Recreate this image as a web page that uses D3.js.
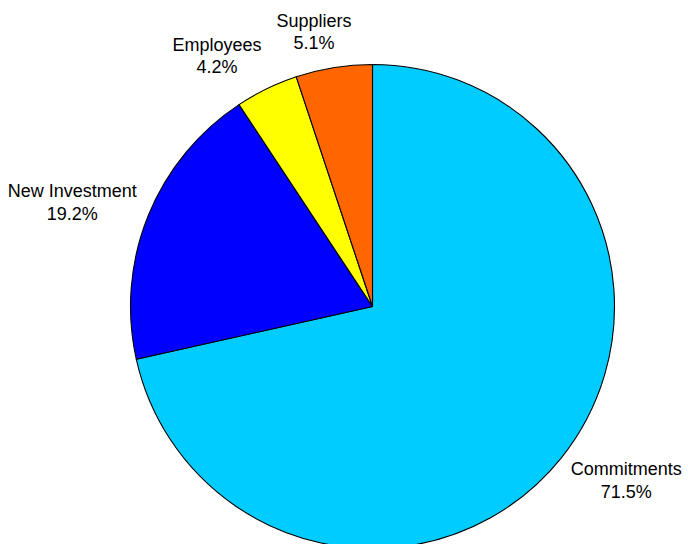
<!DOCTYPE html>
<html>
<head>
<meta charset="utf-8">
<script src="https://cdn.jsdelivr.net/npm/d3@7"></script>
<style>
  html, body { margin: 0; padding: 0; background: #fff; }
  svg { display: block; }
  text { font-family: "Liberation Sans", Arial, Helvetica, sans-serif; fill: #000; }
</style>
</head>
<body>
<svg id="chart" width="688" height="544"></svg>
<script>
// Share of spending, in percent, drawn clockwise from 12 o'clock
const categories = ["Commitments", "New Investment", "Employees", "Suppliers"];
const shares = [71.5, 19.2, 4.2, 5.1];
const sliceColors = ["#00CCFF", "#0000FF", "#FFFF00", "#FF6600"];

const width = 688, height = 544;
const cx = 372.5, cy = 306.5, radius = 242;
const labelRadiusX = radius * 1.05;    // edge of the text block, sideways
const labelRadiusY = radius * 1.15;    // middle of the text block, vertically
const fontSize = 18, lineGap = 22.5;

const svg = d3.select("#chart");
const g = svg.append("g").attr("transform", `translate(${cx},${cy})`);

const pie = d3.pie().sort(null).value(d => d.value).startAngle(0).endAngle(2 * Math.PI);
const arcs = pie(categories.map((c, i) => ({ name: c, value: shares[i], color: sliceColors[i] })));

const arc = d3.arc().innerRadius(0).outerRadius(radius);

g.selectAll("path.slice")
  .data(arcs)
  .join("path")
  .attr("class", "slice")
  .attr("d", arc)
  .attr("fill", d => d.data.color)
  .attr("stroke", "#000")
  .attr("stroke-width", 1.1)
  .attr("stroke-linejoin", "round");

// Two-line labels outside the rim; the text block is pushed sideways away from
// the pie, fully unless the slice points almost straight up or down.
const clamp = v => Math.max(-1, Math.min(1, v));
g.selectAll("g.label")
  .data(arcs)
  .join("g")
  .attr("class", "label")
  .each(function(d) {
    const mid = (d.startAngle + d.endAngle) / 2;
    const s = Math.sin(mid), c = -Math.cos(mid);
    const lines = [d.data.name, d.data.value.toFixed(1) + "%"];
    const sel = d3.select(this);
    const t = sel.append("text")
      .attr("font-size", fontSize)
      .attr("text-anchor", "middle");
    lines.forEach((str, i) => {
      t.append("tspan").attr("x", 0).attr("y", i * lineGap).text(str);
    });
    const bb = t.node().getBBox();
    const centerX = labelRadiusX * s + clamp(3 * s) * bb.width / 2;
    const centerY = labelRadiusY * c;
    const dx = centerX - (bb.x + bb.width / 2);
    const dy = centerY - (bb.y + bb.height / 2);
    sel.attr("transform", `translate(${dx},${dy})`);
  });
</script>
</body>
</html>
